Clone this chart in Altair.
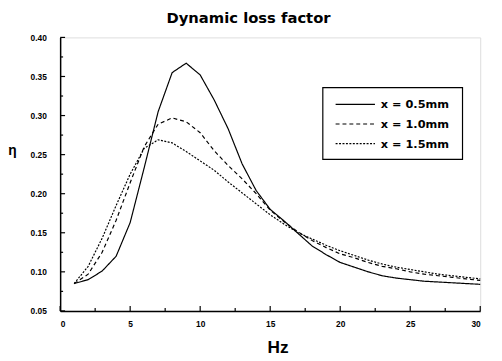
import altair as alt
import pandas as pd

hz = list(range(1, 31))
eta_05 = [0.085, 0.090, 0.101, 0.120, 0.163, 0.233, 0.305, 0.355, 0.367, 0.352,
          0.320, 0.283, 0.238, 0.204, 0.180, 0.165, 0.149, 0.133, 0.122, 0.112,
          0.106, 0.100, 0.095, 0.092, 0.090, 0.088, 0.087, 0.086, 0.085, 0.084]
eta_10 = [0.085, 0.097, 0.125, 0.166, 0.214, 0.260, 0.289, 0.297, 0.292, 0.278,
          0.255, 0.236, 0.219, 0.200, 0.179, 0.164, 0.151, 0.140, 0.131, 0.123,
          0.118, 0.112, 0.107, 0.104, 0.100, 0.097, 0.095, 0.093, 0.091, 0.089]
eta_15 = [0.085, 0.107, 0.143, 0.185, 0.225, 0.258, 0.269, 0.265, 0.254, 0.242,
          0.230, 0.215, 0.201, 0.187, 0.173, 0.161, 0.150, 0.142, 0.134, 0.127,
          0.121, 0.115, 0.110, 0.106, 0.103, 0.100, 0.097, 0.095, 0.093, 0.091]
series_names = ["x = 0.5mm", "x = 1.0mm", "x = 1.5mm"]
x_major = [0, 5, 10, 15, 20, 25, 30]
x_minor = [2.5, 7.5, 12.5, 17.5, 22.5, 27.5]
y_major = [0.05, 0.10, 0.15, 0.20, 0.25, 0.30, 0.35, 0.40]
y_minor = [0.075, 0.125, 0.175, 0.225, 0.275, 0.325, 0.375]

rows = []
for name, vals in zip(series_names, [eta_05, eta_10, eta_15]):
    for h, v in zip(hz, vals):
        rows.append({"Hz": h, "eta": v, "series": name})
df = pd.DataFrame(rows)

FONT = "Liberation Sans"
WIDE = "DejaVu Sans"
W, H = 427, 278
xs = alt.Scale(domain=[0, 30], nice=False, zero=False)
ys = alt.Scale(domain=[0.05, 0.40], nice=False, zero=False)
dash_scale = alt.Scale(domain=series_names, range=[[1, 0], [4, 3], [2, 1.5]])

x_axis = alt.Axis(
    values=x_major, format="d", title="Hz", grid=False, ticks=False, tickSize=0,
    domainColor="black", domainWidth=1.5, labelPadding=9, labelFont=FONT,
    labelFontSize=8.5, labelFontWeight="bold", labelColor="black",
    titleFont=FONT, titleFontSize=17.5, titleFontWeight="bold", titleColor="black",
    titleX=221, titleY=42, titleBaseline="alphabetic", titleAnchor="middle")
y_axis = alt.Axis(
    values=y_major, format=".2f", title="η", grid=False, ticks=False, tickSize=0,
    domainColor="black", domainWidth=1.5, labelPadding=14, labelFont=FONT,
    labelFontSize=8.5, labelFontWeight="bold", labelColor="black",
    titleFont=FONT, titleFontSize=14, titleFontWeight="bold", titleColor="black",
    titleAngle=0, titleX=-49, titleY=115, titleBaseline="middle", titleAlign="center")

lines = alt.Chart(df).mark_line(color="black", strokeWidth=1.2).encode(
    x=alt.X("Hz:Q", scale=xs, axis=x_axis, title="Hz"),
    y=alt.Y("eta:Q", scale=ys, axis=y_axis, title="η"),
    strokeDash=alt.StrokeDash("series:N", scale=dash_scale, legend=None),
)

xmaj = alt.Chart(pd.DataFrame({"Hz": x_major})).mark_rule(color="black", strokeWidth=1.2).encode(
    x=alt.X("Hz:Q", scale=xs, axis=x_axis, title="Hz"), y=alt.value(H), y2=alt.value(H - 5))
xmin = alt.Chart(pd.DataFrame({"Hz": x_minor})).mark_rule(color="black", strokeWidth=1.2).encode(
    x=alt.X("Hz:Q", scale=xs, axis=x_axis, title="Hz"), y=alt.value(H), y2=alt.value(H - 3))
ymaj = alt.Chart(pd.DataFrame({"eta": y_major})).mark_rule(color="black", strokeWidth=1.2).encode(
    y=alt.Y("eta:Q", scale=ys, axis=y_axis, title="η"), x=alt.value(0), x2=alt.value(5))
ymin = alt.Chart(pd.DataFrame({"eta": y_minor})).mark_rule(color="black", strokeWidth=1.2).encode(
    y=alt.Y("eta:Q", scale=ys, axis=y_axis, title="η"), x=alt.value(0), x2=alt.value(3))

# manual legend (box, line samples, labels)
LX0, LX1, LY0, LY1 = 267, 409, 51, 124
legend_box = alt.Chart(pd.DataFrame({"series": [series_names[0]]})).mark_rect(
    fill="white", stroke="black", strokeWidth=1.2).encode(
    x=alt.value(LX0), x2=alt.value(LX1), y=alt.value(LY0), y2=alt.value(LY1))
legend_layers = [legend_box]
for i, name in enumerate(series_names):
    row = pd.DataFrame({"series": [name]})
    yy = 68 + 20 * i
    legend_layers.append(alt.Chart(row).mark_rule(color="black", strokeWidth=1.2).encode(
        x=alt.value(280), x2=alt.value(320), y=alt.value(yy),
        strokeDash=alt.StrokeDash("series:N", scale=dash_scale, legend=None)))
    legend_layers.append(alt.Chart(row).mark_text(
        align="left", baseline="middle", font=WIDE, fontSize=11.5, fontWeight="bold",
        color="black").encode(x=alt.value(326), y=alt.value(yy + 1), text="series:N"))

chart = alt.layer(lines, xmaj, xmin, ymaj, ymin, *legend_layers).properties(
    width=W, height=H,
    title=alt.TitleParams("Dynamic loss factor", font=WIDE, fontSize=15, fontWeight="bold",
                          color="black", anchor="middle", dx=-22, offset=8),
    autosize=alt.AutoSizeParams(type="none"),
    padding={"left": 53, "top": 27, "right": 14, "bottom": 47},
).configure_view(stroke=None).configure(background="white")

chart.save("out.html", embed_options={"renderer": "svg", "actions": False})
